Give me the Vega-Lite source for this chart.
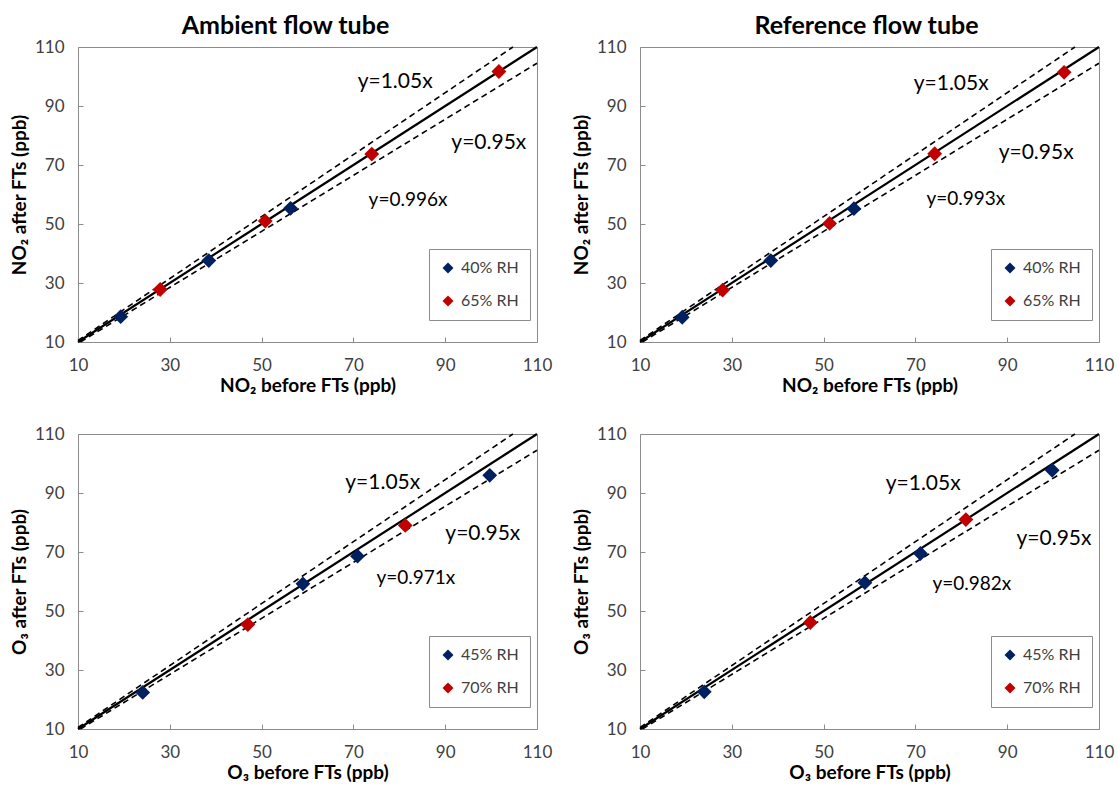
{
  "$schema": "https://vega.github.io/schema/vega-lite/v6.json",
  "padding": {"left": 9, "top": 13, "right": 8, "bottom": 0},
  "background": "white",
  "datasets": {
    "lines": [
      {"kind": "one", "x": 10, "y": 10},
      {"kind": "one", "x": 110, "y": 110},
      {"kind": "up", "x": 10, "y": 10.5},
      {"kind": "up", "x": 104.76, "y": 110},
      {"kind": "lo", "x": 10.53, "y": 10},
      {"kind": "lo", "x": 110, "y": 104.5}
    ],
    "pts": [
      {"panel": "A", "rh": "40% RH", "x": 19.3, "y": 18.6},
      {"panel": "A", "rh": "40% RH", "x": 38.5, "y": 37.6},
      {"panel": "A", "rh": "40% RH", "x": 56.3, "y": 55.3},
      {"panel": "A", "rh": "65% RH", "x": 27.9, "y": 27.8},
      {"panel": "A", "rh": "65% RH", "x": 50.8, "y": 51.0},
      {"panel": "A", "rh": "65% RH", "x": 74.0, "y": 73.7},
      {"panel": "A", "rh": "65% RH", "x": 101.7, "y": 101.7},
      {"panel": "B", "rh": "40% RH", "x": 19.2, "y": 18.4},
      {"panel": "B", "rh": "40% RH", "x": 38.5, "y": 37.6},
      {"panel": "B", "rh": "40% RH", "x": 56.6, "y": 55.2},
      {"panel": "B", "rh": "65% RH", "x": 28.0, "y": 27.6},
      {"panel": "B", "rh": "65% RH", "x": 51.3, "y": 50.2},
      {"panel": "B", "rh": "65% RH", "x": 74.2, "y": 73.8},
      {"panel": "B", "rh": "65% RH", "x": 102.4, "y": 101.4},
      {"panel": "C", "rh": "45% RH", "x": 24.1, "y": 22.4},
      {"panel": "C", "rh": "45% RH", "x": 59.0, "y": 59.2},
      {"panel": "C", "rh": "45% RH", "x": 70.9, "y": 68.6},
      {"panel": "C", "rh": "45% RH", "x": 99.7, "y": 96.0},
      {"panel": "C", "rh": "70% RH", "x": 47.0, "y": 45.4},
      {"panel": "C", "rh": "70% RH", "x": 81.3, "y": 79.0},
      {"panel": "D", "rh": "45% RH", "x": 24.0, "y": 22.6},
      {"panel": "D", "rh": "45% RH", "x": 59.0, "y": 59.6},
      {"panel": "D", "rh": "45% RH", "x": 71.1, "y": 69.5},
      {"panel": "D", "rh": "45% RH", "x": 99.8, "y": 97.7},
      {"panel": "D", "rh": "70% RH", "x": 47.1, "y": 46.1},
      {"panel": "D", "rh": "70% RH", "x": 81.0, "y": 81.0}
    ],
    "ann": [
      {"panel": "A", "kind": "ref", "label": "y=1.05x", "x": 79.1, "y": 98.1},
      {"panel": "A", "kind": "ref", "label": "y=0.95x", "x": 99.5, "y": 77.5},
      {"panel": "A", "kind": "fit", "label": "y=0.996x", "x": 81.9, "y": 58.1},
      {"panel": "B", "kind": "ref", "label": "y=1.05x", "x": 77.8, "y": 97.5},
      {"panel": "B", "kind": "ref", "label": "y=0.95x", "x": 96.3, "y": 74.1},
      {"panel": "B", "kind": "fit", "label": "y=0.993x", "x": 81.0, "y": 58.5},
      {"panel": "C", "kind": "ref", "label": "y=1.05x", "x": 76.4, "y": 93.3},
      {"panel": "C", "kind": "ref", "label": "y=0.95x", "x": 98.2, "y": 76.2},
      {"panel": "C", "kind": "fit", "label": "y=0.971x", "x": 83.6, "y": 61.2},
      {"panel": "D", "kind": "ref", "label": "y=1.05x", "x": 71.7, "y": 93.1},
      {"panel": "D", "kind": "ref", "label": "y=0.95x", "x": 100.2, "y": 74.4},
      {"panel": "D", "kind": "fit", "label": "y=0.982x", "x": 82.3, "y": 59.2}
    ]
  },
  "columns": 2,
  "spacing": {"row": 92, "column": 103},
  "bounds": "flush",
  "resolve": {"scale": {"color": "independent"}, "legend": {"color": "independent"}},
  "concat": [
    {
      "width": 459, "height": 295,
      "title": {"text": "Ambient flow tube", "dx": -22},
      "layer": [
        {"data": {"name": "lines"}, "transform": [{"filter": "datum.kind == 'one'"}],
         "mark": {"type": "line", "color": "black", "strokeWidth": 2.2},
         "encoding": {
           "x": {"field": "x", "type": "quantitative", "scale": {"domain": [10, 110], "nice": false, "zero": false}, "axis": {"title": "NO₂ before FTs (ppb)", "values": [10, 30, 50, 70, 90, 110]}},
           "y": {"field": "y", "type": "quantitative", "scale": {"domain": [10, 110], "nice": false, "zero": false}, "axis": {"title": "NO₂ after FTs (ppb)", "values": [10, 30, 50, 70, 90, 110]}}}},
        {"data": {"name": "lines"}, "transform": [{"filter": "datum.kind != 'one'"}],
         "mark": {"type": "line", "color": "black", "strokeWidth": 1.6, "strokeDash": [6, 4]},
         "encoding": {"x": {"field": "x", "type": "quantitative"}, "y": {"field": "y", "type": "quantitative"}, "detail": {"field": "kind"}}},
        {"data": {"name": "pts"}, "transform": [{"filter": "datum.panel == 'A'"}],
         "mark": {"type": "point", "shape": "diamond", "filled": true, "size": 220, "opacity": 1},
         "encoding": {"x": {"field": "x", "type": "quantitative"}, "y": {"field": "y", "type": "quantitative"},
           "color": {"field": "rh", "type": "nominal", "scale": {"domain": ["40% RH", "65% RH"], "range": ["#002060", "#C00000"]}}}},
        {"data": {"name": "ann"}, "transform": [{"filter": "datum.panel == 'A' && datum.kind == 'ref'"}],
         "mark": {"type": "text", "fontSize": 21, "color": "black"},
         "encoding": {"x": {"field": "x", "type": "quantitative"}, "y": {"field": "y", "type": "quantitative"}, "text": {"field": "label"}}},
        {"data": {"name": "ann"}, "transform": [{"filter": "datum.panel == 'A' && datum.kind == 'fit'"}],
         "mark": {"type": "text", "fontSize": 19, "color": "black"},
         "encoding": {"x": {"field": "x", "type": "quantitative"}, "y": {"field": "y", "type": "quantitative"}, "text": {"field": "label"}}}
      ]
    },
    {
      "width": 459, "height": 295,
      "title": {"text": "Reference flow tube", "dx": -3},
      "layer": [
        {"data": {"name": "lines"}, "transform": [{"filter": "datum.kind == 'one'"}],
         "mark": {"type": "line", "color": "black", "strokeWidth": 2.2},
         "encoding": {
           "x": {"field": "x", "type": "quantitative", "scale": {"domain": [10, 110], "nice": false, "zero": false}, "axis": {"title": "NO₂ before FTs (ppb)", "values": [10, 30, 50, 70, 90, 110]}},
           "y": {"field": "y", "type": "quantitative", "scale": {"domain": [10, 110], "nice": false, "zero": false}, "axis": {"title": "NO₂ after FTs (ppb)", "values": [10, 30, 50, 70, 90, 110]}}}},
        {"data": {"name": "lines"}, "transform": [{"filter": "datum.kind != 'one'"}],
         "mark": {"type": "line", "color": "black", "strokeWidth": 1.6, "strokeDash": [6, 4]},
         "encoding": {"x": {"field": "x", "type": "quantitative"}, "y": {"field": "y", "type": "quantitative"}, "detail": {"field": "kind"}}},
        {"data": {"name": "pts"}, "transform": [{"filter": "datum.panel == 'B'"}],
         "mark": {"type": "point", "shape": "diamond", "filled": true, "size": 220, "opacity": 1},
         "encoding": {"x": {"field": "x", "type": "quantitative"}, "y": {"field": "y", "type": "quantitative"},
           "color": {"field": "rh", "type": "nominal", "scale": {"domain": ["40% RH", "65% RH"], "range": ["#002060", "#C00000"]}}}},
        {"data": {"name": "ann"}, "transform": [{"filter": "datum.panel == 'B' && datum.kind == 'ref'"}],
         "mark": {"type": "text", "fontSize": 21, "color": "black"},
         "encoding": {"x": {"field": "x", "type": "quantitative"}, "y": {"field": "y", "type": "quantitative"}, "text": {"field": "label"}}},
        {"data": {"name": "ann"}, "transform": [{"filter": "datum.panel == 'B' && datum.kind == 'fit'"}],
         "mark": {"type": "text", "fontSize": 19, "color": "black"},
         "encoding": {"x": {"field": "x", "type": "quantitative"}, "y": {"field": "y", "type": "quantitative"}, "text": {"field": "label"}}}
      ]
    },
    {
      "width": 459, "height": 295,
      "layer": [
        {"data": {"name": "lines"}, "transform": [{"filter": "datum.kind == 'one'"}],
         "mark": {"type": "line", "color": "black", "strokeWidth": 2.2},
         "encoding": {
           "x": {"field": "x", "type": "quantitative", "scale": {"domain": [10, 110], "nice": false, "zero": false}, "axis": {"title": "O₃ before FTs (ppb)", "values": [10, 30, 50, 70, 90, 110]}},
           "y": {"field": "y", "type": "quantitative", "scale": {"domain": [10, 110], "nice": false, "zero": false}, "axis": {"title": "O₃ after FTs (ppb)", "values": [10, 30, 50, 70, 90, 110]}}}},
        {"data": {"name": "lines"}, "transform": [{"filter": "datum.kind != 'one'"}],
         "mark": {"type": "line", "color": "black", "strokeWidth": 1.6, "strokeDash": [6, 4]},
         "encoding": {"x": {"field": "x", "type": "quantitative"}, "y": {"field": "y", "type": "quantitative"}, "detail": {"field": "kind"}}},
        {"data": {"name": "pts"}, "transform": [{"filter": "datum.panel == 'C'"}],
         "mark": {"type": "point", "shape": "diamond", "filled": true, "size": 220, "opacity": 1},
         "encoding": {"x": {"field": "x", "type": "quantitative"}, "y": {"field": "y", "type": "quantitative"},
           "color": {"field": "rh", "type": "nominal", "scale": {"domain": ["45% RH", "70% RH"], "range": ["#002060", "#C00000"]}}}},
        {"data": {"name": "ann"}, "transform": [{"filter": "datum.panel == 'C' && datum.kind == 'ref'"}],
         "mark": {"type": "text", "fontSize": 21, "color": "black"},
         "encoding": {"x": {"field": "x", "type": "quantitative"}, "y": {"field": "y", "type": "quantitative"}, "text": {"field": "label"}}},
        {"data": {"name": "ann"}, "transform": [{"filter": "datum.panel == 'C' && datum.kind == 'fit'"}],
         "mark": {"type": "text", "fontSize": 19, "color": "black"},
         "encoding": {"x": {"field": "x", "type": "quantitative"}, "y": {"field": "y", "type": "quantitative"}, "text": {"field": "label"}}}
      ]
    },
    {
      "width": 459, "height": 295,
      "layer": [
        {"data": {"name": "lines"}, "transform": [{"filter": "datum.kind == 'one'"}],
         "mark": {"type": "line", "color": "black", "strokeWidth": 2.2},
         "encoding": {
           "x": {"field": "x", "type": "quantitative", "scale": {"domain": [10, 110], "nice": false, "zero": false}, "axis": {"title": "O₃ before FTs (ppb)", "values": [10, 30, 50, 70, 90, 110]}},
           "y": {"field": "y", "type": "quantitative", "scale": {"domain": [10, 110], "nice": false, "zero": false}, "axis": {"title": "O₃ after FTs (ppb)", "values": [10, 30, 50, 70, 90, 110]}}}},
        {"data": {"name": "lines"}, "transform": [{"filter": "datum.kind != 'one'"}],
         "mark": {"type": "line", "color": "black", "strokeWidth": 1.6, "strokeDash": [6, 4]},
         "encoding": {"x": {"field": "x", "type": "quantitative"}, "y": {"field": "y", "type": "quantitative"}, "detail": {"field": "kind"}}},
        {"data": {"name": "pts"}, "transform": [{"filter": "datum.panel == 'D'"}],
         "mark": {"type": "point", "shape": "diamond", "filled": true, "size": 220, "opacity": 1},
         "encoding": {"x": {"field": "x", "type": "quantitative"}, "y": {"field": "y", "type": "quantitative"},
           "color": {"field": "rh", "type": "nominal", "scale": {"domain": ["45% RH", "70% RH"], "range": ["#002060", "#C00000"]}}}},
        {"data": {"name": "ann"}, "transform": [{"filter": "datum.panel == 'D' && datum.kind == 'ref'"}],
         "mark": {"type": "text", "fontSize": 21, "color": "black"},
         "encoding": {"x": {"field": "x", "type": "quantitative"}, "y": {"field": "y", "type": "quantitative"}, "text": {"field": "label"}}},
        {"data": {"name": "ann"}, "transform": [{"filter": "datum.panel == 'D' && datum.kind == 'fit'"}],
         "mark": {"type": "text", "fontSize": 19, "color": "black"},
         "encoding": {"x": {"field": "x", "type": "quantitative"}, "y": {"field": "y", "type": "quantitative"}, "text": {"field": "label"}}}
      ]
    }
  ],
  "config": {
    "font": "Lato",
    "view": {"stroke": "#8c8c8c", "strokeWidth": 1},
    "title": {"fontSize": 25, "fontWeight": "bold", "color": "black", "offset": -1, "anchor": "middle"},
    "axis": {
      "grid": false,
      "domain": false,
      "tickColor": "#8c8c8c",
      "tickSize": -5,
      "labelFlush": false,
      "labelFontSize": 17,
      "labelColor": "#404040",
      "titleFontSize": 19,
      "titleFontWeight": "bold",
      "titleColor": "black"
    },
    "axisY": {"titlePadding": 5, "labelPadding": 19},
    "axisX": {"titlePadding": 3, "labelPadding": 20},
    "legend": {
      "orient": "none",
      "legendX": 351,
      "legendY": 202,
      "title": null,
      "symbolType": "diamond",
      "symbolSize": 120,
      "symbolStrokeWidth": 0,
      "labelFontSize": 16,
      "labelColor": "#404040",
      "labelOffset": 5,
      "padding": 11,
      "rowPadding": 17,
      "strokeColor": "#8c8c8c",
      "fillColor": "white"
    }
  }
}
